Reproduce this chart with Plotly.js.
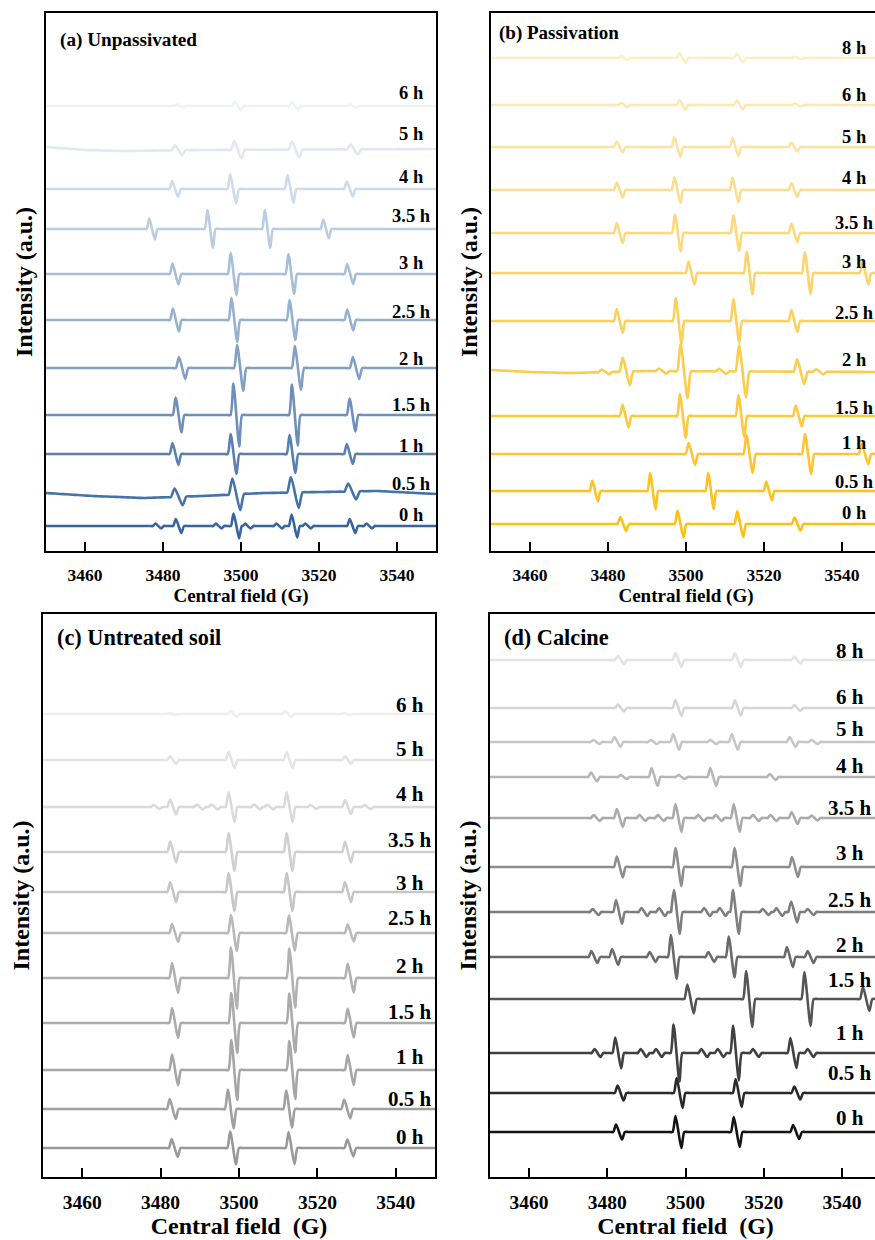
<!DOCTYPE html>
<html><head><meta charset="utf-8">
<script src="https://cdn.plot.ly/plotly-3.0.1.min.js"></script>
<style>html,body{margin:0;padding:0;overflow:hidden;background:#fff}#chart{width:885px;height:1240px}</style>
</head><body><div id="chart"></div><script>
// ---------- shared axis ----------
const fieldRange = [3450, 3550];
const fieldTicks = [3460, 3480, 3500, 3520, 3540];

// ---------- (a) Unpassivated ----------
const aLabels = ['0 h','0.5 h','1 h','1.5 h','2 h','2.5 h','3 h','3.5 h','4 h','5 h','6 h'];
const aOffsets = [25,58,97,136,183,231,277,322,362,403,445];
const aCenters = [
  [3478.8,3484.0,3494.3,3498.8,3501.8,3509.8,3513.7,3517.2,3528.6,3532.9],
  [3484.0,3498.8,3513.8,3528.5],
  [3483.2,3498.1,3513.2,3527.9],
  [3484.0,3498.8,3513.8,3528.6],
  [3484.9,3499.8,3514.6,3529.5],
  [3483.3,3498.3,3513.2,3528.0],
  [3483.2,3498.1,3512.9,3528.0],
  [3477.2,3492.1,3506.8,3521.8],
  [3483.1,3498.0,3512.7,3527.9],
  [3484.0,3499.2,3514.0,3529.0],
  [3484.4,3499.2,3513.8,3528.7]
];
const aAmps = [
  [2.5,7,2.5,12.5,2.5,2.5,11.5,2.5,7,2.5],
  [8.5,16,15.5,8],
  [11,20,19,10],
  [17.5,31.5,30.5,16.5],
  [11,23,22,11],
  [11.5,22,20,10.5],
  [10.5,21,20,10],
  [10.5,19,19,9.5],
  [8,14.5,14,7.5],
  [5,8.5,8,5],
  [1.5,4.5,4,1.5]
];
const aWidths = [0.7,1.0,0.75,0.75,0.8,0.75,0.75,0.7,0.75,0.9,0.75];
const aBaseDev = {1: [[3450,0],[3462,-3],[3475,-5],[3490,-3],[3506,0],[3535,2],[3545,0],[3550,-1]],
                  9: [[3450,1],[3460,-2],[3470,-3],[3490,-2],[3550,-1]]};

// ---------- (b) Passivation ----------
const bLabels = ['0 h','0.5 h','1 h','1.5 h','2 h','2.5 h','3 h','3.5 h','4 h','5 h','6 h','8 h'];
const bOffsets = [27,60,97,135,181,230,278,318,361,404,446,493];
const bCenters = [
  [3483.9,3498.6,3513.9,3528.6],
  [3476.7,3491.5,3506.4,3521.3],
  [3501.5,3516.3,3531.3,3545.9],
  [3484.5,3499.2,3514.2,3528.9],
  [3479.3,3484.7,3494.0,3499.5,3509.4,3514.5,3529.4,3534.3],
  [3483.0,3498.1,3512.9,3527.8],
  [3501.4,3516.3,3531.2,3546.0],
  [3483.0,3497.9,3512.9,3527.8],
  [3483.0,3497.8,3512.7,3527.8],
  [3483.0,3497.8,3512.7,3527.8],
  [3484.2,3499.1,3513.8,3528.7],
  [3484.2,3499.1,3513.8,3528.7]
];
const bAmps = [
  [7,13.5,13,6.5],
  [10.5,18,18,9.5],
  [11,19,20,10],
  [11.5,22,21,10.5],
  [2.5,14,2.5,27,2.5,26,12.5,2.5],
  [12,23,22,11],
  [11.5,21.5,21,11.5],
  [10,18.5,18,9.5],
  [7.5,13,12.5,7],
  [5.5,10,9,4.5],
  [2,5,4.5,1.5],
  [2,5,4.5,1.5]
];
const bWidths = [0.75,0.7,0.8,0.75,0.9,0.75,0.75,0.75,0.75,0.75,0.75,0.75];
const bBaseDev = {4: [[3450,0],[3460,-2],[3470,-3],[3480,-2],[3490,-1],[3550,-2]]};

// ---------- (c) Untreated soil ----------
const cLabels = ['0 h','0.5 h','1 h','1.5 h','2 h','2.5 h','3 h','3.5 h','4 h','5 h','6 h'];
const cOffsets = [29,68,107,154,199,244,285,325,370,417,463];
const cCenters = [
  [3483.6,3498.5,3513.4,3528.4],
  [3483.1,3497.9,3512.8,3527.6],
  [3483.7,3498.8,3513.6,3528.5],
  [3483.7,3498.8,3513.6,3528.5],
  [3483.7,3498.7,3513.6,3528.5],
  [3483.7,3498.7,3513.5,3528.5],
  [3483.2,3498.1,3512.9,3527.8],
  [3483.2,3498.1,3512.9,3527.8],
  [3479.0,3483.2,3490.0,3493.8,3498.1,3504.6,3508.0,3512.9,3519.0,3527.8,3532.8],
  [3483.2,3498.1,3512.9,3527.8],
  [3483.0,3498.6,3512.6,3527.6]
];
const cAmps = [
  [9,16.5,16,8.5],
  [10,19.5,18.5,9.5],
  [15.5,30,29,15],
  [15,30,29.5,14.5],
  [15,30.5,29.5,14.5],
  [9,18,17.5,8.5],
  [10,19,19,10],
  [10.5,19,19,10.5],
  [2,7.5,2.5,2.5,15,2.5,2.5,15,2,7,2],
  [4,8,8,4],
  [1,3,3,1]
];
const cWidths = [0.75,0.75,0.75,0.75,0.75,0.75,0.75,0.75,0.75,0.75,0.75];
const cBaseDev = {};

// ---------- (d) Calcine ----------
const dLabels = ['0 h','0.5 h','1 h','1.5 h','2 h','2.5 h','3 h','3.5 h','4 h','5 h','6 h','8 h'];
const dOffsets = [45,84,124,178,220,265,310,359,400,435,469,517];
const dCenters = [
  [3483.0,3498.2,3513.1,3528.3],
  [3483.4,3498.5,3513.6,3528.6],
  [3477.5,3482.8,3489.3,3493.2,3497.7,3504.8,3509.0,3512.9,3518.0,3527.6,3532.0],
  [3501.3,3516.3,3531.2,3546.2],
  [3476.7,3482.0,3491.6,3497.0,3506.6,3511.8,3526.7,3532.0],
  [3477.0,3483.0,3489.5,3494.0,3497.8,3505.5,3509.5,3512.9,3520.5,3524.0,3527.8,3532.0],
  [3483.2,3498.2,3513.3,3528.0],
  [3477.3,3483.2,3489.0,3493.7,3498.2,3504.0,3508.5,3513.1,3518.0,3522.5,3527.9,3533.0],
  [3476.6,3484.2,3492.1,3499.0,3507.1,3522.3],
  [3477.2,3482.6,3491.9,3497.6,3507.1,3512.6,3527.4,3533.0],
  [3483.5,3498.2,3513.4,3528.6],
  [3483.5,3498.2,3513.4,3528.6]
];
const dAmps = [
  [7.5,16,15,7],
  [7.5,15,14,6.5],
  [4,15.5,4,4,28.5,4,4,27.5,4,15,4],
  [14.5,28,27,12],
  [6,8,5,22,5,20.5,10,6],
  [3,12,4,4,22,4,4,22,3,4,10.5,3],
  [10.5,19,19,10],
  [3,9,3,3,14,3,3,14,3,3,6,2.5],
  [4.5,2,9,2,9,3],
  [2,5,2,8,2,8,5,2],
  [3.5,8,7.5,3],
  [4,7,7,3.5]
];
const dWidths = [0.75,0.75,0.75,0.8,0.75,0.75,0.75,0.75,0.75,0.75,0.75,0.75];
const dBaseDev = {};

// ---------- styles (kept apart from data) ----------
const aColors = ['#3565a0','#4572a9','#5a7fb0','#6e8fba','#829fc4','#96b0cf','#a8bed8','#bccde2','#cfdbea','#e1e8f2','#eef2f8'];
const bColors = ['#ffc010','#ffc220','#fec530','#fec93e','#fdcc4d','#fdd05c','#fdd46b','#fdd97c','#fdde8e','#fde3a0','#fde8b4','#fdeec8'];
const cColors = ['#999999','#a0a0a0','#a6a6a6','#ababab','#b1b1b1','#b9b9b9','#c6c6c6','#d0d0d0','#dadada','#e4e4e4','#eeeeee'];
const dColors = ['#141414','#2a2a2a','#404040','#555555','#6a6a6a','#7e7e7e','#8e8e8e','#aaaaaa','#b6b6b6','#c6c6c6','#d6d6d6','#e3e3e3'];
const aLabelY = [36,67,105,146,192,239,288,335,374,417,458];
const bLabelY = [38,69,108,143,191,238,289,328,373,414,456,503];
const cLabelY = [40,78,120,165,211,259,294,337,383,428,472];
const dLabelY = [59,104,144,197,232,277,324,369,411,448,480,526];

function baseAt(dev, x) {
  if (!dev) return 0;
  for (let i = 0; i < dev.length - 1; i++) {
    if (x >= dev[i][0] && x <= dev[i+1][0]) {
      const t = (x - dev[i][0]) / (dev[i+1][0] - dev[i][0]);
      return dev[i][1] + t * (dev[i+1][1] - dev[i][1]);
    }
  }
  return 0;
}
function peakAt(x, c, a, s) {
  const k = [[c-2*s,0],[c-s,a],[c+s,-a],[c+2*s,0]];
  if (x <= k[0][0] || x >= k[3][0]) return 0;
  for (let i = 0; i < 3; i++) {
    if (x >= k[i][0] && x <= k[i+1][0]) {
      const t = (x - k[i][0]) / (k[i+1][0] - k[i][0]);
      return k[i][1] + t * (k[i+1][1] - k[i][1]);
    }
  }
  return 0;
}
function spectrum(centers, amps, s, offset, dev) {
  const xs = new Set([fieldRange[0], fieldRange[1]]);
  centers.forEach(c => [c-3*s, c-2*s, c-s, c+s, c+2*s, c+3.2*s].forEach(v => xs.add(+v.toFixed(3))));
  // plain baseline sampling points of the field axis, away from the lines
  for (let g = fieldRange[0]; g <= fieldRange[1]; g += 1.5) {
    if (centers.every(c => Math.abs(g - c) > 4 * s)) xs.add(+g.toFixed(3));
  }
  if (dev) dev.forEach(p => xs.add(p[0]));
  const x = [...xs].filter(v => v >= fieldRange[0] - 3 && v <= fieldRange[1] + 3).sort((p, q) => p - q);
  const y = x.map(v => {
    let sum = offset + baseAt(dev, v);
    centers.forEach((c, i) => { sum += peakAt(v, c, amps[i], s); });
    return sum;
  });
  return {x, y};
}

const FONT = 'Liberation Serif, Times New Roman, serif';
const traces = [];
const annotations = [];
const panels = [
  {labels:aLabels, offsets:aOffsets, centers:aCenters, amps:aAmps, widths:aWidths, dev:aBaseDev, colors:aColors, labelY:aLabelY, labelX:3543.6, ax:'x', ay:'y'},
  {labels:bLabels, offsets:bOffsets, centers:bCenters, amps:bAmps, widths:bWidths, dev:bBaseDev, colors:bColors, labelY:bLabelY, labelX:3543.2, ax:'x2', ay:'y2'},
  {labels:cLabels, offsets:cOffsets, centers:cCenters, amps:cAmps, widths:cWidths, dev:cBaseDev, colors:cColors, labelY:cLabelY, labelX:3543.6, ax:'x3', ay:'y3'},
  {labels:dLabels, offsets:dOffsets, centers:dCenters, amps:dAmps, widths:dWidths, dev:dBaseDev, colors:dColors, labelY:dLabelY, labelX:3542.0, ax:'x4', ay:'y4'}
];
panels.forEach((p, pi) => {
  const big = pi >= 2;
  p.labels.forEach((lab, i) => {
    const sp = spectrum(p.centers[i], p.amps[i], p.widths[i], p.offsets[i], p.dev[i]);
    traces.push({x: sp.x, y: sp.y, xaxis: p.ax, yaxis: p.ay, type: 'scatter', mode: 'lines',
      name: lab, showlegend: false, hoverinfo: 'skip',
      line: {color: p.colors[i], width: 2.6, shape: 'spline', smoothing: 0.7}});
    annotations.push({x: p.labelX, y: p.labelY[i], xref: p.ax, yref: p.ay, text: lab, showarrow: false,
      xanchor: 'center', yanchor: 'middle', font: {family: FONT, size: big ? 21 : 18.5, color: '#000', weight: 'bold'}});
  });
});

const panelTitles = [
  {text:'(a) Unpassivated', x:0.031, y:0.95, ax:'x', ay:'y', size:19.2},
  {text:'(b) Passivation', x:0.015, y:0.963, ax:'x2', ay:'y2', size:19},
  {text:'(c) Untreated soil', x:0.031, y:0.959, ax:'x3', ay:'y3', size:22.3},
  {text:'(d) Calcine', x:0.031, y:0.959, ax:'x4', ay:'y4', size:22.3}
];
panelTitles.forEach(t => annotations.push({x: t.x, y: t.y, xref: t.ax + ' domain', yref: t.ay + ' domain',
  text: t.text, showarrow: false, xanchor: 'left', yanchor: 'middle',
  font: {family: FONT, size: t.size, color: '#000', weight: 'bold'}}));

function xAxis(domain, anchor, big) {
  return {domain, anchor, range: fieldRange, tickvals: fieldTicks, ticks: 'inside', ticklen: 9, tickwidth: 2,
    tickcolor: '#000', showline: true, mirror: true, linewidth: 2, linecolor: '#000', showgrid: false,
    zeroline: false, automargin: false, ticklabelstandoff: 7,
    tickfont: {family: FONT, size: big ? 19.5 : 17.5, color: '#000', weight: 'bold'},
    title: {text: big ? 'Central field \u00a0(G)' : 'Central field (G)', standoff: big ? 3 : 0,
      font: {family: FONT, size: big ? 24 : 19, color: '#000', weight: 'bold'}}};
}
function yAxis(domain, anchor, top) {
  return {domain, anchor, range: top ? [0, 538] : [0, 563], showticklabels: false, ticks: '',
    showline: true, mirror: true, linewidth: 2, linecolor: '#000', showgrid: false, zeroline: false,
    automargin: false,
    title: {text: 'Intensity (a.u.)', standoff: 5, font: {family: FONT, size: 24, color: '#000', weight: 'bold'}}};
}
const W = 885, H = 1240;
const layout = {
  width: W, height: H, margin: {l: 0, r: 0, t: 0, b: 0}, paper_bgcolor: '#fff', plot_bgcolor: '#fff',
  font: {family: FONT, color: '#000', weight: 'bold'}, showlegend: false,
  xaxis: xAxis([46/W, 436/W], 'y', false),
  yaxis: yAxis([1-551/H, 1-13/H], 'x', true),
  xaxis2: xAxis([491/W, 881/W], 'y2', false),
  yaxis2: yAxis([1-551/H, 1-13/H], 'x2', true),
  xaxis3: xAxis([43/W, 435/W], 'y3', true),
  yaxis3: yAxis([1-1177/H, 1-614/H], 'x3', false),
  xaxis4: xAxis([490/W, 881/W], 'y4', true),
  yaxis4: yAxis([1-1177/H, 1-614/H], 'x4', false),
  annotations
};
Plotly.newPlot('chart', traces, layout, {staticPlot: true, displayModeBar: false});
</script></body></html>
